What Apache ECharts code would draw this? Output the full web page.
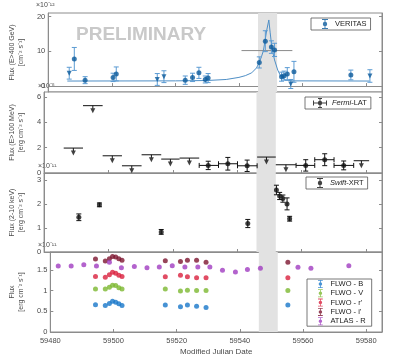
<!DOCTYPE html>
<html>
<head>
<meta charset="utf-8">
<script src="https://cdn.jsdelivr.net/npm/echarts@6/dist/echarts.min.js"></script>
<style>
html, body { margin: 0; padding: 0; background: #fff; }
#chart { width: 393px; height: 364px; }
</style>
</head>
<body>
<div id="chart"></div>
<script>
// VERITAS (E>400 GeV), units of 1e-12 cm^-2 s^-1
var vtsT = [59488.2, 59491.6, 59500.4, 59501.4, 59523.1, 59525.4, 59527.4, 59529.4, 59530.3, 59546.4, 59548.3, 59550.2, 59551.2, 59553.4, 59554.2, 59555.2, 59557.3, 59575.2];
var vtsF = [7.8, 1.7, 2.5, 3.5, 1.7, 2.5, 3.8, 1.9, 2.3, 6.8, 12.9, 11.2, 10.4, 2.7, 3.0, 3.5, 4.1, 3.2];
var vtsE = [3.3, 1.0, 1.2, 2.0, 1.2, 1.2, 1.6, 1.0, 1.3, 1.6, 3.0, 1.8, 1.9, 1.3, 1.3, 1.8, 3.0, 1.4];
var vtsUlT = [59486.6, 59514.3, 59516.4, 59556.3, 59581.2];
var vtsUlF = [3.7, 1.9, 2.7, 0.6, 2.9];
var vtsUlE = [1.7, 1.7, 1.7, 1.3, 1.8];
var vtsLongT = [59540.8, 59556.8];
var vtsLongF = 10.2;
var fitT = [59486, 59520, 59530, 59536, 59540, 59542, 59544, 59545.5, 59546.4, 59547.1, 59547.7, 59548.2, 59548.7, 59549.4, 59549.8, 59550.2, 59550.7, 59551.2, 59552.2, 59553.2, 59554.7, 59557, 59581];
var fitF = [1.45, 1.5, 1.6, 1.9, 2.5, 3.0, 3.8, 5.2, 6.8, 8.5, 10.2, 13, 15.9, 19, 15.5, 12.3, 9.5, 7.5, 4.6, 2.7, 1.75, 1.5, 1.45];

// Fermi-LAT (E>100 MeV), units of 1e-8
var fermiT = [59531, 59537.1, 59543.1, 59561.3, 59567.2, 59573.1];
var fermiLo = [59528.2, 59534.2, 59540.1, 59558.3, 59564.1, 59570.1];
var fermiHi = [59534.2, 59540.1, 59546.2, 59564.1, 59570.1, 59576.2];
var fermiF = [0.6, 0.73, 0.57, 0.6, 1.05, 0.6];
var fermiE = [0.33, 0.5, 0.45, 0.45, 0.47, 0.35];
var fermiUlLo = [59486.1, 59492.1, 59498.2, 59504.2, 59510.3, 59516.4, 59522.1, 59546.2, 59552.0, 59576.2];
var fermiUlHi = [59492.1, 59498.2, 59504.2, 59510.3, 59516.4, 59522.1, 59528.2, 59552.0, 59558.3, 59581.0];
var fermiUlF = [1.97, 5.32, 1.36, 0.57, 1.44, 1.1, 1.18, 1.26, 0.65, 0.97];

// Swift-XRT (2-10 keV), units of 1e-11
var xrtT = [59490.8, 59497.2, 59516.4, 59543.3, 59552.2, 59553.2, 59554.2, 59555.5, 59556.3];
var xrtF = [1.45, 1.97, 0.84, 1.19, 2.59, 2.34, 2.23, 2.01, 1.39];
var xrtE = [0.14, 0.08, 0.1, 0.17, 0.2, 0.15, 0.15, 0.25, 0.1];

// optical, units of 1e-11
var flwoT = [59494.3, 59497.4, 59498.7, 59499.7, 59500.7, 59501.7, 59502.7, 59516.4, 59521.2, 59523.4, 59526.3, 59529.3, 59555.2];
var flwoB = [0.66, 0.64, 0.69, 0.74, 0.72, 0.68, 0.64, 0.65, 0.61, 0.65, 0.62, 0.59, 0.65];
var flwoV = [1.04, 1.04, 1.08, 1.13, 1.12, 1.07, 1.04, 1.04, 0.99, 1.01, 1.0, 1.0, 1.0];
var flwoR = [1.34, 1.32, 1.38, 1.44, 1.42, 1.37, 1.34, 1.33, 1.37, 1.33, 1.31, 1.31, 1.31];
var flwoI = [1.76, 1.71, 1.77, 1.82, 1.81, 1.77, 1.73, 1.72, 1.70, 1.73, 1.73, 1.68, 1.68];
var atlasT = [59482.5, 59486.6, 59490.6, 59494.6, 59498.7, 59502.5, 59506.6, 59510.6, 59514.5, 59518.6, 59522.6, 59526.7, 59530.5, 59534.5, 59538.6, 59542.4, 59546.5, 59558.4, 59562.5, 59574.5];
var atlasF = [1.59, 1.59, 1.62, 1.59, 1.68, 1.55, 1.58, 1.55, 1.57, 1.6, 1.57, 1.57, 1.57, 1.49, 1.45, 1.51, 1.54, 1.56, 1.54, 1.6];

var xTicks = [59480, 59500, 59520, 59540, 59560, 59580];
var band = [59546, 59552];
var yRanges = [[-1.7, 21], [0, 6.4], [0, 3.3], [0, 1.93]];
var yTicks = [[0, 10, 20], [0, 2, 4, 6], [0, 1, 2, 3], [0, 0.5, 1, 1.5]];
var yNames = ['Flux (E>400 GeV)\n[cm\u207B\u00B2 s\u207B\u00B9]', 'Flux (E>100 MeV)\n[erg cm\u207B\u00B2 s\u207B\u00B9]',
  'Flux (2-10 keV)\n[erg cm\u207B\u00B2 s\u207B\u00B9]', 'Flux\n[erg cm\u207B\u00B2 s\u207B\u00B9]'];

var FONT = 'Liberation Sans';
var AX = '#8c8c8c';
var TXT = '#4a4a4a';

var errIcon = 'path://M2,0h6v1h-6z M4.5,1h1v8h-1z M2,9h6v1h-6z M5,2.8a2.2,2.2 0 1,1 0,4.4a2.2,2.2 0 1,1 0,-4.4z';
var latIcon = 'path://M0,4.5h14v1h-14z M0,2.5h1v5h-1z M13,2.5h1v5h-1z M6.5,0h1v10h-1z M5,0h4v1h-4z M5,9h4v1h-4z M7,2.8a2.2,2.2 0 1,1 0,4.4a2.2,2.2 0 1,1 0,-4.4z';

function zip(a, b) { return a.map(function (v, i) { return [v, b[i]]; }); }
function errData(t, f, e) { return t.map(function (v, i) { return [v, f[i] - e[i], f[i] + e[i]]; }); }

function vErr(color, cap) {
  return function (params, api) {
    var x = api.value(0);
    var a = api.coord([x, api.value(1)]);
    var b = api.coord([x, api.value(2)]);
    var s = { stroke: color, lineWidth: 1 };
    return { type: 'group', children: [
      { type: 'line', shape: { x1: a[0], y1: a[1], x2: b[0], y2: b[1] }, style: s },
      { type: 'line', shape: { x1: a[0] - cap, y1: a[1], x2: a[0] + cap, y2: a[1] }, style: s },
      { type: 'line', shape: { x1: b[0] - cap, y1: b[1], x2: b[0] + cap, y2: b[1] }, style: s }
    ] };
  };
}

// horizontal bin with vertical error bar (Fermi)
function binErr(params, api) {
  var f = api.value(1);
  var l = api.coord([api.value(2), f]), r = api.coord([api.value(3), f]);
  var lo = api.coord([api.value(0), api.value(4)]), hi = api.coord([api.value(0), api.value(5)]);
  var s = { stroke: '#111', lineWidth: 1 };
  return { type: 'group', children: [
    { type: 'line', shape: { x1: l[0], y1: l[1], x2: r[0], y2: r[1] }, style: s },
    { type: 'line', shape: { x1: l[0], y1: l[1] - 2.5, x2: l[0], y2: l[1] + 2.5 }, style: s },
    { type: 'line', shape: { x1: r[0], y1: r[1] - 2.5, x2: r[0], y2: r[1] + 2.5 }, style: s },
    { type: 'line', shape: { x1: lo[0], y1: lo[1], x2: hi[0], y2: hi[1] }, style: s },
    { type: 'line', shape: { x1: lo[0] - 2.5, y1: lo[1], x2: lo[0] + 2.5, y2: lo[1] }, style: s },
    { type: 'line', shape: { x1: hi[0] - 2.5, y1: hi[1], x2: hi[0] + 2.5, y2: hi[1] }, style: s }
  ] };
}

// upper-limit bin: horizontal bar with short stem
function ulBar(params, api) {
  var f = api.value(2);
  var l = api.coord([api.value(0), f]), r = api.coord([api.value(1), f]);
  var cx = (l[0] + r[0]) / 2;
  var s = { stroke: '#111', lineWidth: 1 };
  return { type: 'group', children: [
    { type: 'line', shape: { x1: l[0], y1: l[1], x2: r[0], y2: r[1] }, style: s },
    { type: 'line', shape: { x1: cx, y1: l[1], x2: cx, y2: l[1] + 3 }, style: s }
  ] };
}

function hBar(color) {
  return function (params, api) {
    var a = api.coord([api.value(0), api.value(2)]), b = api.coord([api.value(1), api.value(2)]);
    return { type: 'line', shape: { x1: a[0], y1: a[1], x2: b[0], y2: b[1] }, style: { stroke: color, lineWidth: 1 } };
  };
}

var grids = [
  { left: 35, right: 11, top: 13, height: 79 },
  { left: 35, right: 11, top: 92, height: 81 },
  { left: 35, right: 11, top: 173, height: 79 },
  { left: 35, right: 11, top: 252, height: 80 }
].map(function (g) {
  g.show = true; g.borderColor = AX; g.borderWidth = 1; g.backgroundColor = '#fff';
  return g;
});

var xAxes = [0, 1, 2, 3].map(function (i) {
  return {
    type: 'value', gridIndex: i, min: 59480, max: 59585,
    axisLine: { lineStyle: { color: AX } },
    axisTick: { inside: true, length: 3, customValues: xTicks, lineStyle: { color: AX } },
    axisLabel: { show: i === 3, customValues: xTicks, color: TXT, fontFamily: FONT, fontSize: 7.5, margin: 5,
      formatter: function (v) { return String(v); } },
    splitLine: { show: false },
    name: i === 3 ? 'Modified Julian Date' : '', nameLocation: 'middle', nameGap: 16,
    nameTextStyle: { color: TXT, fontFamily: FONT, fontSize: 8 }
  };
});

var yAxes = [];
[0, 1, 2, 3].forEach(function (i) {
  yAxes.push({
    type: 'value', gridIndex: i, min: yRanges[i][0], max: yRanges[i][1],
    axisLine: { show: true, lineStyle: { color: AX } },
    axisTick: { inside: true, length: 3, customValues: yTicks[i], lineStyle: { color: AX } },
    axisLabel: { customValues: yTicks[i], color: TXT, fontFamily: FONT, fontSize: 7.5, margin: 3 },
    splitLine: { show: false },
    name: yNames[i], nameLocation: 'middle', nameRotate: 90, nameGap: 12,
    nameTextStyle: { color: TXT, fontFamily: FONT, fontSize: 7, lineHeight: 9 }
  });
});
[0, 1, 2, 3].forEach(function (i) {
  yAxes.push({
    type: 'value', gridIndex: i, position: 'right', min: yRanges[i][0], max: yRanges[i][1],
    axisLine: { show: true, lineStyle: { color: AX } },
    axisTick: { inside: true, length: 3, customValues: yTicks[i], lineStyle: { color: AX } },
    axisLabel: { show: false },
    splitLine: { show: false }
  });
});

function bandSeries(i) {
  return {
    type: 'line', name: 'band' + i, xAxisIndex: i, yAxisIndex: i, data: [], z: 1, silent: true,
    markArea: { silent: true, itemStyle: { color: '#e2e2e2' }, data: [[{ xAxis: band[0] }, { xAxis: band[1] }]] }
  };
}

var vtsErrColor = '#5b9bd3';
var vtsColor = '#0b5a9b';

var series = [
  bandSeries(0), bandSeries(1), bandSeries(2), bandSeries(3),
  // VERITAS
  { type: 'line', name: 'VERITAS fit', xAxisIndex: 0, yAxisIndex: 0, data: zip(fitT, fitF), showSymbol: false,
    lineStyle: { color: '#4f8fc6', width: 1 }, itemStyle: { color: '#4f8fc6' }, z: 2 },
  { type: 'custom', name: 'VERITAS long', xAxisIndex: 0, yAxisIndex: 0, renderItem: hBar('#8a8a8a'),
    encode: { x: [0, 1], y: 2 }, data: [[vtsLongT[0], vtsLongT[1], vtsLongF]], z: 2 },
  { type: 'custom', name: 'VERITAS err', xAxisIndex: 0, yAxisIndex: 0, renderItem: vErr(vtsErrColor, 2.5),
    encode: { x: 0, y: [1, 2] }, data: errData(vtsT, vtsF, vtsE).concat(errData(vtsUlT, vtsUlF, vtsUlE)), z: 3 },
  { type: 'scatter', name: 'VERITAS', xAxisIndex: 0, yAxisIndex: 0, data: zip(vtsT, vtsF), symbol: 'circle', symbolSize: 5,
    itemStyle: { color: vtsColor }, z: 4 },
  { type: 'scatter', name: 'VERITAS UL', xAxisIndex: 0, yAxisIndex: 0, data: zip(vtsUlT, vtsUlF), symbol: 'triangle',
    symbolRotate: 180, symbolSize: 5, itemStyle: { color: vtsColor }, z: 4 },
  // Fermi
  { type: 'custom', name: 'Fermi err', xAxisIndex: 1, yAxisIndex: 1, renderItem: binErr, encode: { x: [2, 3], y: [4, 5] },
    data: fermiT.map(function (t, i) { return [t, fermiF[i], fermiLo[i], fermiHi[i], fermiF[i] - fermiE[i], fermiF[i] + fermiE[i]]; }), z: 3 },
  { type: 'scatter', name: 'Fermi-LAT', xAxisIndex: 1, yAxisIndex: 1, data: zip(fermiT, fermiF), symbol: 'circle', symbolSize: 5,
    itemStyle: { color: '#111' }, z: 4 },
  { type: 'custom', name: 'Fermi UL bar', xAxisIndex: 1, yAxisIndex: 1, renderItem: ulBar, encode: { x: [0, 1], y: 2 },
    data: fermiUlLo.map(function (l, i) { return [l, fermiUlHi[i], fermiUlF[i]]; }), z: 3 },
  { type: 'scatter', name: 'Fermi UL', xAxisIndex: 1, yAxisIndex: 1, symbol: 'triangle', symbolRotate: 180, symbolSize: 5,
    symbolOffset: [0, 5], itemStyle: { color: '#111' }, z: 4,
    data: fermiUlLo.map(function (l, i) { return [(l + fermiUlHi[i]) / 2, fermiUlF[i]]; }) },
  // Swift
  { type: 'custom', name: 'XRT err', xAxisIndex: 2, yAxisIndex: 2, renderItem: vErr('#111', 2.5),
    encode: { x: 0, y: [1, 2] }, data: errData(xrtT, xrtF, xrtE), z: 3 },
  { type: 'scatter', name: 'Swift-XRT', xAxisIndex: 2, yAxisIndex: 2, data: zip(xrtT, xrtF), symbol: 'circle', symbolSize: 5,
    itemStyle: { color: '#111' }, z: 4 },
  // optical
  { type: 'scatter', name: 'FLWO - B', xAxisIndex: 3, yAxisIndex: 3, data: zip(flwoT, flwoB), symbolSize: 5, itemStyle: { color: '#1877c9' }, z: 4 },
  { type: 'scatter', name: 'FLWO - V', xAxisIndex: 3, yAxisIndex: 3, data: zip(flwoT, flwoV), symbolSize: 5, itemStyle: { color: '#7cb82f' }, z: 4 },
  { type: 'scatter', name: "FLWO - r'", xAxisIndex: 3, yAxisIndex: 3, data: zip(flwoT, flwoR), symbolSize: 5, itemStyle: { color: '#d9203d' }, z: 4 },
  { type: 'scatter', name: "FLWO - i'", xAxisIndex: 3, yAxisIndex: 3, data: zip(flwoT, flwoI), symbolSize: 5, itemStyle: { color: '#7d1530' }, z: 4 },
  { type: 'scatter', name: 'ATLAS - R', xAxisIndex: 3, yAxisIndex: 3, data: zip(atlasT, atlasF), symbolSize: 5, itemStyle: { color: '#a03cc0' }, z: 4 }
];

function legendBox(extra) {
  var base = {
    selectedMode: false, backgroundColor: '#fff', borderColor: '#555', borderWidth: 0.8, borderRadius: 0,
    itemWidth: 10, itemHeight: 10, icon: errIcon,
    textStyle: { color: '#222', fontFamily: FONT, fontSize: 7.5 }
  };
  for (var k in extra) base[k] = extra[k];
  return base;
}

var option = {
  animation: false,
  grid: grids,
  xAxis: xAxes,
  yAxis: yAxes,
  legend: [
    legendBox({ data: ['VERITAS'], left: 311, top: 18, padding: [1, 4, 1, 11] }),
    legendBox({ data: [{ name: 'Fermi-LAT', icon: latIcon }], itemWidth: 14, left: 305, top: 97, padding: [1, 4, 1, 8],
      formatter: function () { return '{i|Fermi}-LAT'; },
      textStyle: { color: '#222', fontFamily: FONT, fontSize: 7.5, rich: { i: { fontStyle: 'italic', fontFamily: FONT, fontSize: 7.5 } } } }),
    legendBox({ data: ['Swift-XRT'], left: 306, top: 177, padding: [1, 4, 1, 11],
      formatter: function () { return '{i|Swift}-XRT'; },
      textStyle: { color: '#222', fontFamily: FONT, fontSize: 7.5, rich: { i: { fontStyle: 'italic', fontFamily: FONT, fontSize: 7.5 } } } }),
    legendBox({ data: ['FLWO - B', 'FLWO - V', "FLWO - r'", "FLWO - i'", 'ATLAS - R'], orient: 'vertical',
      left: 307, top: 279, itemHeight: 8, itemGap: 1.3, padding: [1, 6, 1, 11] })
  ],
  graphic: [
    { type: 'text', left: 76, top: 25, z: 0, style: { text: 'PRELIMINARY', fill: '#c9c9c9', font: 'bold 19px "Liberation Sans"' } },
    { type: 'text', left: 36, top: 2, style: { text: '\u00D710\u207B\u00B9\u00B2', fill: TXT, font: '7px "Liberation Sans"' } },
    { type: 'text', left: 38, top: 83, style: { text: '\u00D710\u207B\u2078', fill: TXT, font: '7px "Liberation Sans"' } },
    { type: 'text', left: 38, top: 163, style: { text: '\u00D710\u207B\u00B9\u00B9', fill: TXT, font: '7px "Liberation Sans"' } },
    { type: 'text', left: 38, top: 242, style: { text: '\u00D710\u207B\u00B9\u00B9', fill: TXT, font: '7px "Liberation Sans"' } }
  ],
  series: series
};

var chart = echarts.init(document.getElementById('chart'));
chart.setOption(option);
</script>
</body>
</html>
